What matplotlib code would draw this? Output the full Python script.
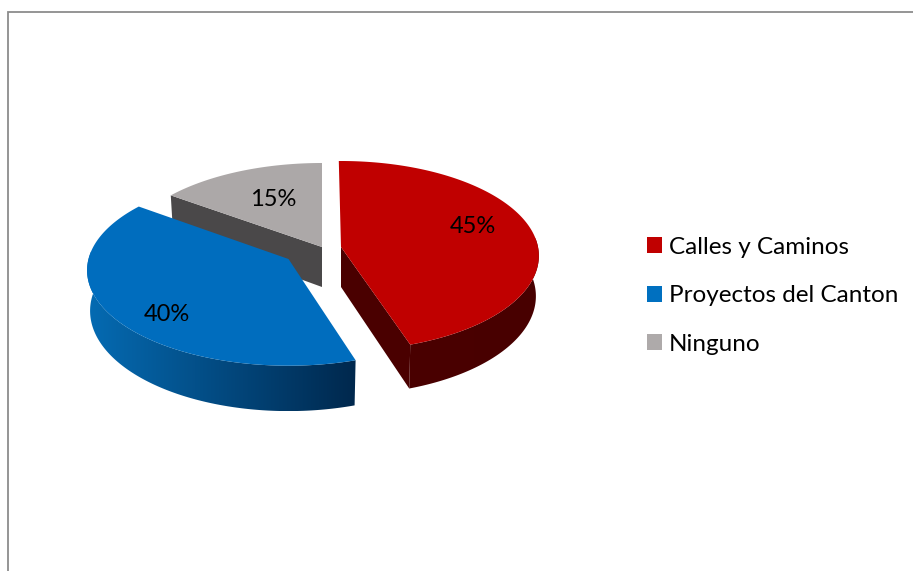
import numpy as np
import matplotlib
matplotlib.use("Agg")
import matplotlib.pyplot as plt
from matplotlib.patches import Patch, Polygon
from matplotlib.colors import LinearSegmentedColormap

# Chart data
categories = ["Calles y Caminos", "Proyectos del Canton", "Ninguno"]
shares = [45, 40, 15]
pct_labels = ["45%", "40%", "15%"]

top_colors = ["#C00000", "#006DBE", "#ACA8A8"]
legend_colors = ["#C00000", "#0070C0", "#AEAAAA"]

# Layout in pixels: apex x, apex y, radius x, radius y, perspective, view rotation
W, H = 913, 571
red_geom = (341, 247, 197, 94, 0.093, -0.7)
blue_geom = (288.5, 259, 200, 94, 0.119, 0.7)
gray_geom = (322, 247, 200, 94, 0.119, 0.0)
label_pos = [(472.5, 226.5), (167, 314.5), (273, 199)]
DEPTH = 40
BOTTOM_SHRINK = 0.985


def ring(geom, angles, lower=False):
    # project circle points (angle clockwise from the top) with a bit of perspective
    cx, cy, rx, ry, persp, rot = geom
    a = np.radians(angles + rot)
    u, v = np.sin(a), np.cos(a)
    d = 1 + persp * v
    x = rx * u / d
    y = -ry * v / d
    if lower:
        x = x * BOTTOM_SHRINK
        y = y + DEPTH / d
    return cx + x, cy + y


def draw_top(ax, geom, start, stop, color, zorder):
    t = np.linspace(start, stop, 200)
    x, y = ring(geom, t)
    ax.fill(np.r_[geom[0], x], np.r_[geom[1], y], color=color, lw=0, zorder=zorder)


def draw_cut(ax, geom, angle, color, zorder):
    x, y = ring(geom, np.array([angle]))
    xb, yb = ring(geom, np.array([angle]), lower=True)
    ax.fill([geom[0], x[0], xb[0], geom[0]],
            [geom[1], y[0], yb[0], geom[1] + DEPTH],
            color=color, lw=0, zorder=zorder)


def side_outline(geom, start, stop):
    t = np.linspace(start, stop, 150)
    x, y = ring(geom, t)
    xb, yb = ring(geom, t, lower=True)
    return np.c_[np.r_[x, xb[::-1]], np.r_[y, yb[::-1]]]


def draw_side(ax, geom, start, stop, colors, zorder):
    # outer wall: horizontal gradient clipped to the wall shape
    pts = side_outline(geom, start, stop)
    cmap = LinearSegmentedColormap.from_list("wall", colors)
    im = ax.imshow(np.linspace(0, 1, 256).reshape(1, -1), cmap=cmap, aspect="auto",
                   extent=(pts[:, 0].min(), pts[:, 0].max(), pts[:, 1].max(), pts[:, 1].min()),
                   zorder=zorder, interpolation="bilinear")
    im.set_clip_path(Polygon(pts, closed=True, transform=ax.transData))


def main():
    fig = plt.figure(figsize=(W / 100, H / 100), dpi=100)
    ax = fig.add_axes([0, 0, 1, 1])

    # Slice angles from the shares, clockwise from 12 o'clock
    edges = np.cumsum([0] + shares) / sum(shares) * 360

    # Gray slice
    draw_cut(ax, gray_geom, edges[2], "#4A4849", 2)
    draw_top(ax, gray_geom, edges[2], edges[3], top_colors[2], 3)

    # Red slice
    draw_side(ax, red_geom, 85, edges[1], ["#4A0000", "#480000"], 4)
    draw_cut(ax, red_geom, edges[1], "#4A0000", 4)
    draw_top(ax, red_geom, edges[0], edges[1], top_colors[0], 5)

    # Blue slice
    draw_side(ax, blue_geom, edges[2] - 32, edges[1], ["#056BB3", "#00284D"], 6)
    draw_top(ax, blue_geom, edges[1], edges[2], top_colors[1], 7)

    for (x, y), txt in zip(label_pos, pct_labels):
        ax.text(x, y, txt, ha="center", va="center", fontsize=17,
                family="Lato", color="black", zorder=10)

    handles = [Patch(facecolor=c, edgecolor="none") for c in legend_colors]
    ax.legend(handles, categories, loc="upper left",
              bbox_to_anchor=(647 / W, 1 - 236.5 / H),
              bbox_transform=ax.transAxes, frameon=False,
              prop={"family": "Lato", "size": 17.5},
              handlelength=0.62, handleheight=0.62, handletextpad=0.28,
              labelspacing=1.14, borderpad=0, borderaxespad=0)

    # Frame: only top and left show
    ax.plot([8, 8, W], [H, 12, 12], color="#8C8C8C", lw=1.3, solid_joinstyle="miter")

    ax.set_xlim(0, W)
    ax.set_ylim(H, 0)
    ax.axis("off")

    fig.savefig("out.png", dpi=100, facecolor="white")


if __name__ == "__main__":
    main()
